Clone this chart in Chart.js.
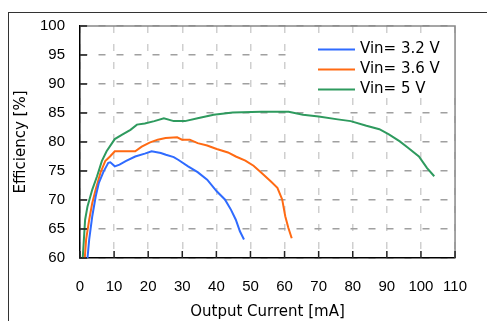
<!DOCTYPE html>
<html>
<head>
<meta charset="utf-8">
<script src="https://cdn.jsdelivr.net/npm/chart.js@4/dist/chart.umd.min.js"></script>
<style>
  html, body { margin: 0; padding: 0; background: #fff; }
</style>
</head>
<body>
<canvas id="effChart" width="487" height="321"></canvas>
<script>
// Efficiency vs output current, three input voltages
const seriesLabels = ['Vin= 3.2 V', 'Vin= 3.6 V', 'Vin= 5 V'];
const seriesColors = ['#2f6bff', '#ff6a13', '#2e9a5e'];

const current32 = [2.2, 2.7, 3.6, 4.6, 5.5, 6.9, 8.3, 8.9, 10.2, 11.6, 13.4, 16.2, 19.0, 21.0, 23.7, 25.2, 27.5, 28.9, 31.7, 34.5, 37.3, 40.1, 42.5, 44.3, 45.7, 46.9, 48.1];
const eff32     = [60.0, 63.2, 67.2, 70.6, 72.9, 74.9, 76.4, 76.5, 75.8, 76.1, 76.7, 77.5, 78.0, 78.4, 78.1, 77.8, 77.4, 76.9, 75.8, 74.8, 73.5, 71.5, 70.1, 68.3, 66.6, 64.6, 63.2];

const current36 = [1.4, 1.8, 2.7, 3.6, 4.6, 6.0, 7.4, 8.8, 10.2, 16.2, 18.1, 20.4, 22.8, 25.1, 28.5, 29.9, 32.2, 34.5, 37.3, 40.1, 43.4, 45.7, 48.5, 50.9, 53.2, 56.0, 57.9, 59.3, 60.2, 61.1, 62.1];
const eff36     = [60.0, 63.2, 66.6, 69.5, 71.8, 74.7, 76.7, 77.5, 78.4, 78.4, 79.2, 79.9, 80.4, 80.7, 80.8, 80.4, 80.4, 79.8, 79.4, 78.8, 78.2, 77.5, 76.8, 75.9, 74.7, 73.2, 72.1, 70.1, 67.2, 65.2, 63.4];

const current50 = [0.8, 1.5, 2.2, 3.6, 5.0, 6.4, 7.8, 10.2, 12.5, 14.8, 16.7, 19.0, 21.8, 24.6, 27.5, 30.8, 34.5, 39.2, 44.8, 53.2, 61.2, 65.4, 70.0, 75.6, 79.4, 84.0, 87.8, 90.6, 93.8, 96.2, 99.4, 101.8, 103.9];
const eff50     = [60.0, 66.6, 68.9, 71.8, 74.1, 76.7, 78.4, 80.5, 81.3, 82.1, 83.0, 83.2, 83.6, 84.1, 83.6, 83.6, 84.1, 84.7, 85.1, 85.2, 85.2, 84.7, 84.4, 83.9, 83.6, 82.8, 82.2, 81.3, 80.1, 79.0, 77.5, 75.5, 74.1];

const xMin = 0, xMax = 110, xStep = 10;
const yMin = 60, yMax = 100, yStep = 5;

function toPoints(xs, ys) {
  return xs.map((x, i) => ({ x: x, y: ys[i] }));
}

const seriesData = [
  toPoints(current32, eff32),
  toPoints(current36, eff36),
  toPoints(current50, eff50)
];

const tickFont = { family: 'Liberation Sans', size: 15 };
const textFont = { family: 'DejaVu Sans', size: 15 };

// outer frame + plot border + inward ticks + legend inside the plot
const decorPlugin = {
  id: 'decor',
  beforeDraw(chart) {
    const ctx = chart.ctx;
    ctx.save();
    ctx.fillStyle = '#fff';
    ctx.fillRect(0, 0, chart.width, chart.height);
    ctx.strokeStyle = '#333';
    ctx.lineWidth = 1;
    ctx.strokeRect(8.5, 12.5, 700, 700);
    ctx.restore();
  },
  beforeDatasetsDraw(chart) {
    // legend box hides the grid behind it
    const ctx = chart.ctx;
    ctx.save();
    ctx.fillStyle = '#fff';
    ctx.fillRect(292, 35, 171, 63);
    ctx.restore();
  },
  afterDraw(chart) {
    const ctx = chart.ctx;
    const area = chart.chartArea;
    const xs = chart.scales.x;
    const ys = chart.scales.y;
    ctx.save();

    // top and right edges of the plot
    ctx.strokeStyle = '#888';
    ctx.lineWidth = 1.5;
    ctx.beginPath();
    ctx.moveTo(area.left, area.top);
    ctx.lineTo(area.right, area.top);
    ctx.lineTo(area.right, area.bottom);
    ctx.stroke();

    // inward tick marks
    ctx.strokeStyle = '#222';
    ctx.lineWidth = 1.5;
    ctx.beginPath();
    xs.ticks.forEach(t => {
      const px = xs.getPixelForValue(t.value);
      ctx.moveTo(px, area.bottom);
      ctx.lineTo(px, area.bottom - 7);
    });
    ys.ticks.forEach(t => {
      const py = ys.getPixelForValue(t.value);
      ctx.moveTo(area.left, py);
      ctx.lineTo(area.left + 7, py);
    });
    ctx.stroke();

    // legend
    ctx.font = '15px "DejaVu Sans"';
    ctx.textBaseline = 'middle';
    ctx.textAlign = 'left';
    chart.data.datasets.forEach((ds, i) => {
      const y = 49.5 + i * 20;
      ctx.strokeStyle = ds.borderColor;
      ctx.lineWidth = 2;
      ctx.beginPath();
      ctx.moveTo(318, y);
      ctx.lineTo(355, y);
      ctx.stroke();
      ctx.fillStyle = '#000';
      ctx.fillText(ds.label, 360, y);
    });
    ctx.restore();
  }
};

const ctx = document.getElementById('effChart').getContext('2d');
const effChart = new Chart(ctx, {
  type: 'line',
  data: {
    datasets: seriesLabels.map((label, i) => ({
      label: label,
      data: seriesData[i],
      borderColor: seriesColors[i],
      backgroundColor: seriesColors[i],
      borderWidth: 2,
      pointRadius: 0,
      tension: 0,
      fill: false
    }))
  },
  options: {
    responsive: false,
    animation: false,
    layout: { padding: { top: 26, right: 14, left: 0, bottom: 0 } },
    plugins: {
      legend: { display: false },
      tooltip: { enabled: false }
    },
    scales: {
      x: {
        type: 'linear',
        min: xMin,
        max: xMax,
        afterFit: scale => { scale.height = 63; },
        ticks: { stepSize: xStep, color: '#000', font: tickFont, padding: 20, maxRotation: 0 },
        grid: { color: '#cfcfcf', lineWidth: 1.5, drawTicks: false },
        border: { display: true, color: '#000', width: 1.5, dash: [7, 11] },
        title: { display: true, text: 'Output Current [mA]', color: '#000', font: textFont, padding: { top: 0, bottom: 0 } }
      },
      y: {
        min: yMin,
        max: yMax,
        afterFit: scale => { scale.width = 80; },
        ticks: { stepSize: yStep, color: '#000', font: tickFont, padding: 15 },
        grid: { color: '#a0a0a0', lineWidth: 1.5, drawTicks: false },
        border: { display: true, color: '#000', width: 1.5, dash: [7, 11] },
        title: { display: true, text: 'Efficiency [%]', color: '#000', font: textFont, padding: { top: 12, bottom: 0 } }
      }
    }
  },
  plugins: [decorPlugin]
});
</script>
</body>
</html>
